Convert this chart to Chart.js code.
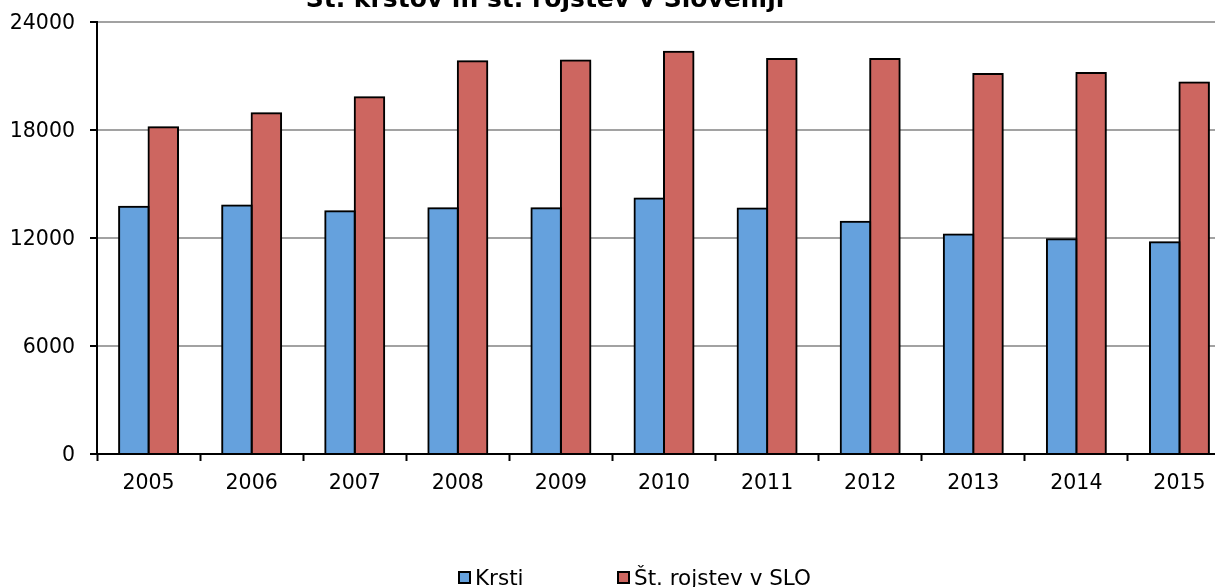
<!DOCTYPE html>
<html>
<head>
<meta charset="utf-8">
<script src="https://cdn.jsdelivr.net/npm/chart.js@4/dist/chart.umd.min.js"></script>
<style>
  html, body { margin: 0; padding: 0; background: #fff; overflow: hidden; }
  #wrap { position: relative; width: 1215px; height: 587px; overflow: hidden; }
  canvas { position: absolute; left: 0; top: 0; }
</style>
</head>
<body>
<div id="wrap"><canvas id="c" width="1260" height="587"></canvas></div>
<script>
const chartTitle = "Št. krstov in št. rojstev v Sloveniji";
const years = ["2005","2006","2007","2008","2009","2010","2011","2012","2013","2014","2015"];
const krsti = [13740, 13810, 13490, 13650, 13650, 14200, 13640, 12900, 12200, 11930, 11760];
const rojstva = [18157, 18932, 19823, 21817, 21856, 22343, 21947, 21938, 21111, 21165, 20641];
const seriesLabels = ["Krsti", "Št. rojstev v SLO"];
const yTicks = [0, 6000, 12000, 18000, 24000];

const FONT = "'DejaVu Sans', Verdana, sans-serif";

const titlePlugin = {
  id: 'customTitle',
  afterDraw(chart) {
    const ctx = chart.ctx;
    ctx.save();
    ctx.font = "bold 25px " + FONT;
    ctx.fillStyle = '#000';
    ctx.textAlign = 'center';
    ctx.textBaseline = 'alphabetic';
    ctx.fillText(chartTitle, 545, 7);
    ctx.restore();
  }
};

const legendPlugin = {
  id: 'customLegend',
  afterDraw(chart) {
    const ctx = chart.ctx;
    const xs = [458, 617];
    ctx.save();
    ctx.font = "21.5px " + FONT;
    ctx.textBaseline = 'alphabetic';
    ctx.textAlign = 'left';
    chart.data.datasets.forEach((ds, i) => {
      const x = xs[i];
      ctx.fillStyle = ds.backgroundColor;
      ctx.fillRect(x + 1, 572, 11, 11);
      ctx.strokeStyle = '#000';
      ctx.lineWidth = 2;
      ctx.strokeRect(x + 1, 572, 11, 11);
      ctx.fillStyle = '#000';
      ctx.fillText(ds.label, x + 17, 585);
    });
    ctx.restore();
  }
};

const shadowPlugin = {
  id: 'barShadow',
  beforeDatasetsDraw(chart) {
    const ctx = chart.ctx;
    ctx.save();
    ctx.shadowColor = 'rgba(0,0,0,0.22)';
    ctx.shadowBlur = 4;
    ctx.shadowOffsetX = 1;
    ctx.shadowOffsetY = 0;
  },
  afterDatasetsDraw(chart) {
    chart.ctx.restore();
  }
};

new Chart(document.getElementById('c'), {
  type: 'bar',
  data: {
    labels: years,
    datasets: [
      { label: seriesLabels[0], data: krsti, backgroundColor: '#65a1dd', borderColor: '#000', borderWidth: 2,
        inflateAmount: 1, categoryPercentage: 0.5714, barPercentage: 1.0 },
      { label: seriesLabels[1], data: rojstva, backgroundColor: '#cd6660', borderColor: '#000', borderWidth: 2,
        inflateAmount: 1, categoryPercentage: 0.5714, barPercentage: 1.0 }
    ]
  },
  options: {
    responsive: false,
    animation: false,
    devicePixelRatio: 1,
    layout: { padding: { top: 22, right: 29, left: 0, bottom: 0 } },
    plugins: {
      legend: { display: false },
      title: { display: false },
      tooltip: { enabled: false }
    },
    scales: {
      x: {
        offset: true,
        grid: { display: true, drawOnChartArea: false, offset: true, tickLength: 7, tickColor: '#000', tickWidth: 2 },
        border: { display: true, color: '#000', width: 2, z: 1 },
        ticks: { color: '#000', font: { family: FONT, size: 20.5 }, padding: 10, maxRotation: 0 },
        afterFit(scale) { scale.height = 133; scale.paddingLeft = 0; scale.paddingRight = 0; }
      },
      y: {
        min: 0, max: 24000,
        afterBuildTicks(scale) { scale.ticks = yTicks.map(v => ({ value: v })); },
        grid: {
          color: (c) => (c.tick && c.tick.value === 0) ? 'rgba(0,0,0,0)' : '#a2a2a2',
          lineWidth: 2, tickLength: 7, tickColor: '#000', tickWidth: 2
        },
        border: { display: true, color: '#000', width: 2 },
        ticks: { color: '#000', font: { family: FONT, size: 20.5 }, padding: 15, labelOffset: 2,
                 callback: (v) => String(v) },
        afterFit(scale) { scale.width = 97; scale.paddingTop = 0; scale.paddingBottom = 0; }
      }
    }
  },
  plugins: [shadowPlugin, titlePlugin, legendPlugin]
});
</script>
</body>
</html>
